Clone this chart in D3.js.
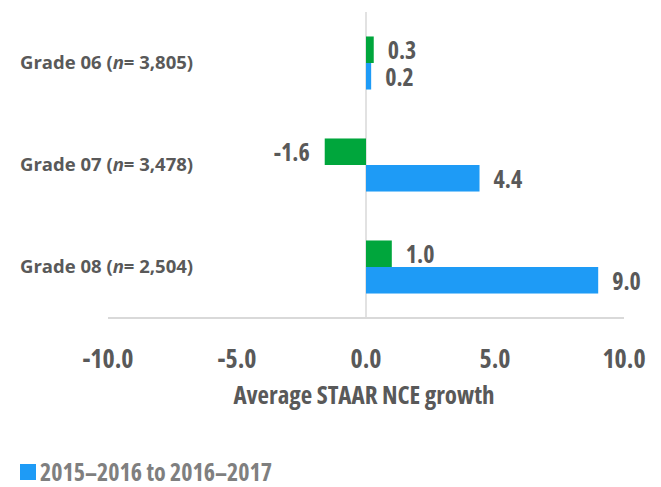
<!DOCTYPE html>
<html>
<head>
<meta charset="utf-8">
<script src="https://d3js.org/d3.v7.min.js"></script>
<style>
  body { margin: 0; background: #fff; }
  svg text { font-family: "Open Sans", "Noto Sans", sans-serif; font-weight: bold; font-stretch: 75%; }
  svg text.cat { font-stretch: 96%; }
</style>
</head>
<body>
<svg id="chart"></svg>
<script>
// data
const grades = ["Grade 06", "Grade 07", "Grade 08"];
const counts = ["3,805", "3,478", "2,504"];
const greenGrowth = [0.3, -1.6, 1.0];
const blueGrowth = [0.2, 4.4, 9.0];
const xTicks = [-10, -5, 0, 5, 10];
const legendLabel = "2015\u20132016 to 2016\u20132017";

const W = 661, H = 487;
const green = "#00a63c";
const blue = "#1e9bf6";
const textDark = "#595959";
const fmt = (v) => d3.format(".1f")(v).replace("\u2212", "-");

const svg = d3.select("#chart").attr("width", W).attr("height", H);

const x = d3.scaleLinear().domain([-10, 10]).range([108, 624]);
const y = d3.scaleBand().domain(grades).range([12, 318]).paddingInner(0.48).paddingOuter(0.24);

// zero line
svg.append("line")
  .attr("x1", x(0)).attr("x2", x(0))
  .attr("y1", 12).attr("y2", 318)
  .attr("stroke", "#d9d9d9").attr("stroke-width", 1.5);

// bottom axis line
svg.append("line")
  .attr("x1", x(-10)).attr("x2", x(10))
  .attr("y1", 318).attr("y2", 318)
  .attr("stroke", "#d9d9d9").attr("stroke-width", 2);

const half = y.bandwidth() / 2;
const rows = grades.map((g, i) => ({ g, n: counts[i], green: greenGrowth[i], blue: blueGrowth[i] }));

const bars = [];
rows.forEach((r) => {
  bars.push({ g: r.g, v: r.green, off: 0, c: green });
  bars.push({ g: r.g, v: r.blue, off: half, c: blue });
});

svg.selectAll("rect.bar")
  .data(bars)
  .enter()
  .append("rect")
  .attr("class", "bar")
  .attr("x", (d) => Math.min(x(0), x(d.v)))
  .attr("width", (d) => Math.abs(x(d.v) - x(0)))
  .attr("y", (d) => y(d.g) + d.off)
  .attr("height", half)
  .attr("fill", (d) => d.c);

svg.selectAll("text.val")
  .data(bars)
  .enter()
  .append("text")
  .attr("class", "val")
  .attr("x", (d) => (d.v >= 0 ? x(d.v) + 14 : x(d.v) - 15))
  .attr("y", (d) => y(d.g) + d.off + half / 2 + 1)
  .attr("dy", "0.36em")
  .attr("text-anchor", (d) => (d.v >= 0 ? "start" : "end"))
  .attr("fill", textDark)
  .attr("font-size", 24)
  .text((d) => fmt(d.v));

// category labels
const cat = svg.selectAll("text.cat")
  .data(rows)
  .enter()
  .append("text")
  .attr("class", "cat")
  .attr("x", 20)
  .attr("y", (d) => y(d.g) + y.bandwidth() / 2 - 1)
  .attr("dy", "0.36em")
  .attr("fill", textDark)
  .attr("font-size", 18.5);
cat.append("tspan").text((d) => d.g + " (");
cat.append("tspan").attr("font-style", "italic").text("n");
cat.append("tspan").text((d) => "= " + d.n + ")");

// x tick labels
svg.selectAll("text.tick")
  .data(xTicks)
  .enter()
  .append("text")
  .attr("class", "tick")
  .attr("x", (d) => x(d))
  .attr("y", 359)
  .attr("dy", "0.36em")
  .attr("text-anchor", "middle")
  .attr("fill", textDark)
  .attr("font-size", 26)
  .text((d) => fmt(d));

svg.append("text")
  .attr("x", 364)
  .attr("y", 395)
  .attr("dy", "0.36em")
  .attr("text-anchor", "middle")
  .attr("fill", textDark)
  .attr("font-size", 25)
  .text("Average STAAR NCE growth");

// legend
svg.append("rect")
  .attr("x", 20).attr("y", 464)
  .attr("width", 16).attr("height", 16)
  .attr("fill", blue);
svg.append("text")
  .attr("x", 40)
  .attr("y", 472)
  .attr("dy", "0.36em")
  .attr("fill", "#7f7f7f")
  .attr("font-size", 24)
  .text(legendLabel);
</script>
</body>
</html>
